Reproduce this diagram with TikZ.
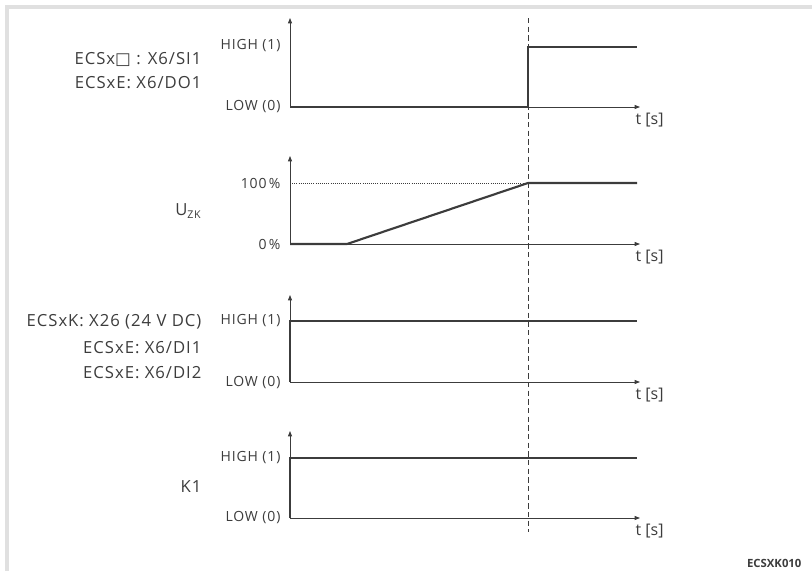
\documentclass[tikz,border=0pt]{standalone}
\usepackage{fontspec}
\setmainfont{Open Sans}
\newfontfamily\lblfont[LetterSpace=6]{Open Sans}
\newfontfamily\symfont{DejaVu Sans}
\usepackage{tikz}
\usetikzlibrary{arrows.meta}
\definecolor{ink}{HTML}{3C3C3C}
\definecolor{frame}{HTML}{E0E0E0}

\begin{document}
\begin{tikzpicture}[x=0.75pt, y=-0.75pt,
  every node/.style={text=ink, inner sep=1pt},
  axis/.style={draw=ink, line width=0.6pt, -{Triangle[length=4pt, width=3pt]}},
  signal/.style={draw=ink, line width=1.6pt, line join=miter},
  lvl/.style={anchor=east, font=\lblfont\fontsize{10.5}{12}\selectfont},
  sig/.style={anchor=east, font=\lblfont\fontsize{12.5}{14}\selectfont, align=right},
  tlbl/.style={anchor=west, font=\fontsize{12}{14}\selectfont}]
  \useasboundingbox (0,0) rectangle (812,571);
  % frame
  \fill[frame] (5,5) rectangle (812,9);
  \fill[frame] (5,5) rectangle (9,571);
  % switching instant
  \draw[ink, line width=0.6pt, dash pattern=on 4pt off 2.5pt] (528,18) -- (528,532);
  % panel 1
  \draw[axis] (290,107) -- (290,18);
  \draw[axis] (290,107) -- (640,107);
  \draw[signal] (290,107) -- (528,107) -- (528,47) -- (637,47);
  \node[lvl] (hi1) at (282,46) {HIGH (1)};
  \node[lvl] (lo1) at (282,107) {LOW (0)};
  \node[tlbl] (t1) at (634,120) {t [s]};
  \node[sig] (s1a) at (203,59) {ECSx{\symfont\char"25A1} : X6/SI1};
  \node[sig] (s1b) at (203,83) {ECSxE: X6/DO1};
  % panel 2
  \draw[axis] (290,244) -- (290,156);
  \draw[axis] (290,244) -- (640,244);
  \draw[ink, line width=0.6pt, densely dotted] (290,183) -- (528,183);
  \draw[signal] (290,244) -- (347,244) -- (528,183) -- (637,183);
  \node[lvl] (hi2) at (282,183) {100\,\%};
  \node[lvl] (lo2) at (282,244) {0\,\%};
  \node[tlbl] (t2) at (634,257) {t [s]};
  \node[sig] (s2) at (203,211) {U\textsubscript{\fontsize{8}{9}\selectfont ZK}};
  % panel 3
  \draw[axis] (290,382) -- (290,295);
  \draw[axis] (290,382) -- (640,382);
  \draw[signal] (290,382) -- (290,321) -- (637,321);
  \node[lvl] (hi3) at (282,321) {HIGH (1)};
  \node[lvl] (lo3) at (282,383) {LOW (0)};
  \node[tlbl] (t3) at (634,395) {t [s]};
  \node[sig] (s3a) at (203,322) {ECSxK: X26 (24 V DC)};
  \node[sig] (s3b) at (203,348) {ECSxE: X6/DI1};
  \node[sig] (s3c) at (203,373) {ECSxE: X6/DI2};
  % panel 4
  \draw[axis] (290,518) -- (290,431);
  \draw[axis] (290,518) -- (640,518);
  \draw[signal] (290,518) -- (290,458) -- (637,458);
  \node[lvl] (hi4) at (282,458) {HIGH (1)};
  \node[lvl] (lo4) at (282,518) {LOW (0)};
  \node[tlbl] (t4) at (634,531) {t [s]};
  \node[sig] (s4) at (203,487) {K1};
  % drawing number
  \node[anchor=east, font=\bfseries\fontsize{8.5}{10}\selectfont] (code) at (803,563) {ECSXK010};
\end{tikzpicture}
\end{document}
